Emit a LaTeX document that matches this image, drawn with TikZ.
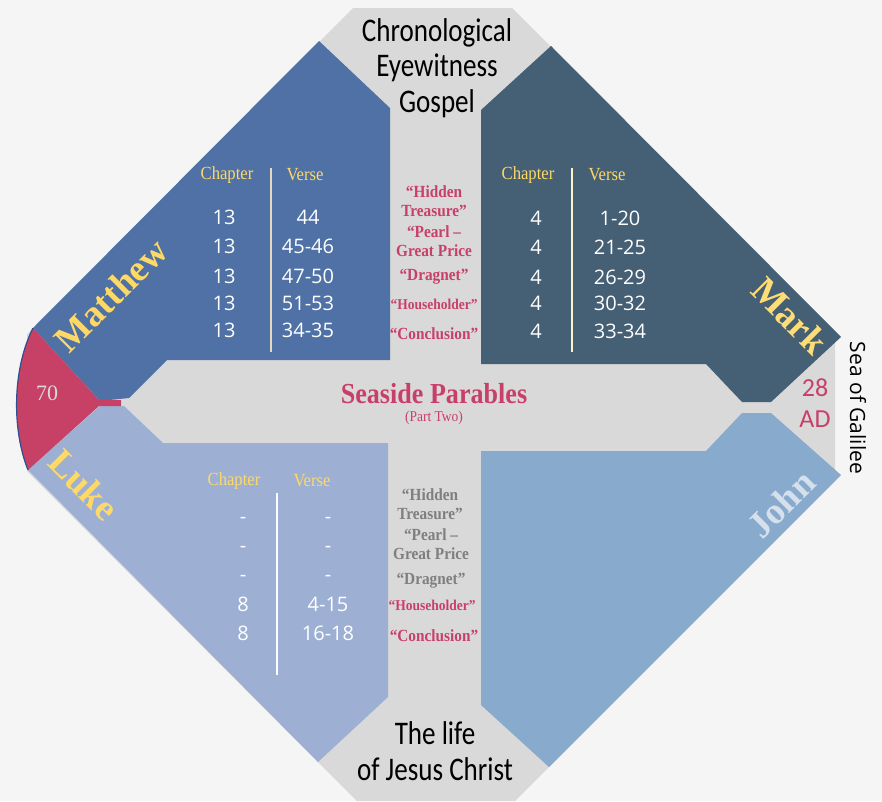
\documentclass[tikz,border=0pt]{standalone}
\usepackage{fontspec}
\setmainfont{Liberation Serif}
\newfontfamily\condserif[FakeStretch=0.9]{Liberation Serif}
\newfontfamily\calfont[FakeStretch=0.82]{Carlito}
\newfontfamily\carlito{Carlito}
\newfontfamily\numfont{Open Sans}
\usetikzlibrary{positioning}

\definecolor{paper}{HTML}{F5F5F5}
\definecolor{plate}{HTML}{D9D9D9}
\definecolor{mattblue}{HTML}{4F71A5}
\definecolor{markslate}{HTML}{455F75}
\definecolor{lukeblue}{HTML}{9DB0D4}
\definecolor{johnblue}{HTML}{88AACD}
\definecolor{wedgered}{HTML}{C74066}
\definecolor{edgeblue}{HTML}{2F4F8F}
\definecolor{crimson}{HTML}{C8406A}
\definecolor{gold}{HTML}{FFD966}
\definecolor{pale}{HTML}{D5E0EC}
\definecolor{dimgrey}{HTML}{7F7F7F}

\tikzset{
  title/.style={font=\calfont\fontsize{33}{35.5}\selectfont, align=center, text=black},
  gname/.style={font=\bfseries\fontsize{37}{37}\selectfont, text=gold},
  colhead/.style={font=\condserif\fontsize{18.5}{18.5}\selectfont, text=gold},
  num/.style={font=\numfont\fontsize{20}{20}\selectfont, text=white},
  parable/.style={font=\condserif\bfseries\fontsize{17}{19.5}\selectfont, align=center, text=crimson},
  parablesmall/.style={parable, font=\condserif\bfseries\fontsize{15}{16}\selectfont},
  muted/.style={text=dimgrey},
  rule/.style={line width=1.6pt}
}

\begin{document}
\begin{tikzpicture}[x=1pt, y=-1pt, every node/.style={inner sep=0pt}]
  \useasboundingbox (0,0) rectangle (882,801);
  \fill[paper] (0,0) rectangle (882,801);
  \fill[plate] (353,8) -- (512,8) -- (835,331) -- (835,481) -- (515,801)
    -- (357,801) -- (27,471) -- (27,334) -- cycle;

  \fill[mattblue] (33,328) -- (319,41) -- (390,108) -- (390,360) -- (167,360)
    -- (129,398) -- (100,401) -- cycle;
  \fill[markslate] (551,46) -- (841,337) -- (771,402) -- (742,402) -- (706,364)
    -- (481,364) -- (481,110) -- cycle;
  \fill[lukeblue] (100,406) -- (124,406) -- (163,443) -- (388,443) -- (388,697)
    -- (318,762) -- (28,470) -- cycle;
  \fill[johnblue] (481,451) -- (706,451) -- (742,413) -- (771,413) -- (841,475)
    -- (549,767) -- (481,705) -- cycle;
  \fill[wedgered] (28,470) .. controls (12,430) and (12,370) .. (33,328)
    -- (99,400) -- (121,400) -- (121,406) -- (99,406) -- cycle;
  \draw[edgeblue, line width=1.2pt] (28,470) .. controls (12,430) and (12,370) .. (33,328);

  \node[title] (Chrono) at (437,68) {Chronological\\Eyewitness\\Gospel};
  \node[title] (Life) at (435,751) {The life\\of Jesus Christ};

  \node[gname, rotate=45] (Matthew) at (111,295) {Matthew};
  \node[gname, rotate=-45, text=gold!90!white] (Mark) at (790,316) {Mark};
  \node[gname, rotate=-45] (Luke) at (84,485) {Luke};
  \node[gname, rotate=45, text=pale] (John) at (781,504) {John};

  % Matthew 13
  \node[colhead] (ChapMt) at (227,175) {Chapter};
  \node[colhead] (VerseMt) at (305,175) {Verse};
  \draw[rule, plate!80!gold] (271,168) -- (271,352);
  \foreach \c/\v/\y [count=\i] in {13/44/217, 13/45-46/246, 13/47-50/276, 13/51-53/303, 13/34-35/330} {
    \node[num] (mtc\i) at (224,\y) {\c};
    \node[num] (mtv\i) at (308,\y) {\v};
  }

  % Mark 4
  \node[colhead] (ChapMk) at (528,175) {Chapter};
  \node[colhead] (VerseMk) at (607,175) {Verse};
  \draw[rule, gold!35!white] (572,168) -- (572,352);
  \foreach \c/\v/\y [count=\i] in {4/1-20/218, 4/21-25/247, 4/26-29/277, 4/30-32/303, 4/33-34/331} {
    \node[num] (mkc\i) at (536,\y) {\c};
    \node[num] (mkv\i) at (620,\y) {\v};
  }

  % Luke 8
  \node[colhead] (ChapLk) at (234,481) {Chapter};
  \node[colhead] (VerseLk) at (312,481) {Verse};
  \draw[rule, white!95!plate] (277,493) -- (277,675);
  \foreach \c/\v/\y [count=\i] in {-/-/520, -/-/549, -/-/578, 8/4-15/604, 8/16-18/633} {
    \node[num] (lkc\i) at (243,\y) {\c};
    \node[num] (lkv\i) at (328,\y) {\v};
  }

  \node[parable] (HiddenA) at (434,201) {“Hidden\\Treasure”};
  \node[parable] (PearlA) at (434,241) {“Pearl –\\Great Price};
  \node[parable] (DragA) at (434,277) {“Dragnet”};
  \node[parablesmall] (HouseA) at (434,304) {“Householder”};
  \node[parable] (ConclA) at (434,334) {“Conclusion”};

  \node[parable, muted] (HiddenB) at (430,504) {“Hidden\\Treasure”};
  \node[parable, muted] (PearlB) at (431,544) {“Pearl –\\Great Price};
  \node[parable, muted] (DragB) at (431,581) {“Dragnet”};
  \node[parablesmall] (HouseB) at (432,605) {“Householder”};
  \node[parable] (ConclB) at (434,636) {“Conclusion”};

  \node[font=\condserif\bfseries\fontsize{29}{29}\selectfont, text=crimson] (Seaside) at (434,394) {Seaside Parables};
  \node[font=\condserif\fontsize{15}{15}\selectfont, text=crimson] (PartTwo) at (434,418) {(Part Two)};

  \node[font=\fontsize{22}{22}\selectfont, text=plate] (Seventy) at (47,393) {70};
  \node[font=\carlito\fontsize{26}{26}\selectfont, text=crimson] (TwentyEight) at (815,388) {28};
  \node[font=\carlito\fontsize{26}{26}\selectfont, text=crimson] (AD) at (815,419) {AD};
  \node[font=\numfont\fontsize{21}{21}\selectfont, rotate=-90] (Sea) at (858,408) {Sea of Galilee};
\end{tikzpicture}
\end{document}
